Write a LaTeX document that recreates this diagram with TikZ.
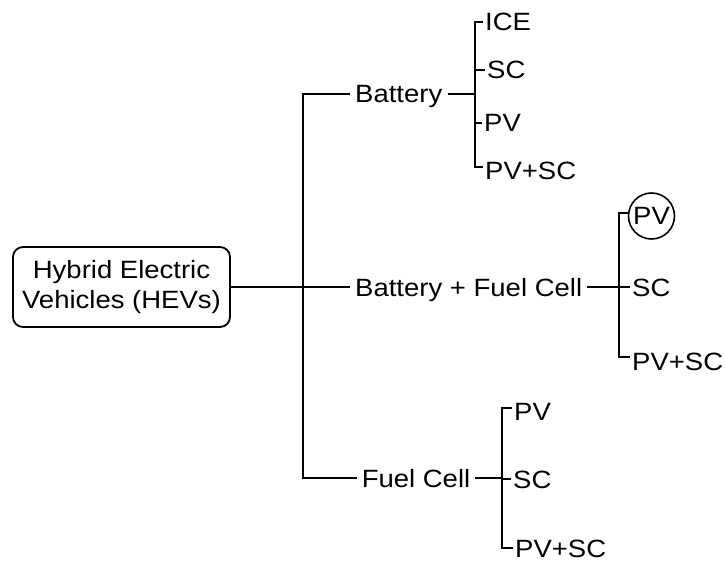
\documentclass[tikz,border=0pt]{standalone}
\usepackage{fontspec}
\setmainfont{Liberation Sans}[FakeStretch=1.1]
\usepackage{tikz}
\usetikzlibrary{positioning}

\begin{document}
\begin{tikzpicture}[
  x=1pt, y=-1pt,
  font=\fontsize{25}{30}\selectfont,
  box/.style={draw, line width=1.8pt, rounded corners=10pt, align=center, minimum width=217pt, minimum height=80pt},
  branch/.style={inner xsep=5pt, inner ysep=0pt, text height=18pt, text depth=0pt},
  leaf/.style={anchor=west, inner xsep=2pt, inner ysep=0pt, text height=18pt, text depth=0pt},
  ring/.style={draw, circle, line width=1.6pt, minimum size=46pt, inner sep=0pt},
  link/.style={line width=1.8pt}
]
\useasboundingbox (0,0) rectangle (725,564);

\node[box] (hev) at (121.5,287) {Hybrid Electric\\Vehicles (HEVs)};
\node[branch, anchor=west] (bat) at (350,94) {Battery};
\node[branch, anchor=west] (bfc) at (350,287) {Battery + Fuel Cell};
\node[branch] (fc) at (416,478) {Fuel Cell};

\coordinate (trunk) at (303,287);
\coordinate (bj) at (475,94);
\coordinate (bfcj) at (619,287);
\coordinate (fcj) at (502,478);

% battery
\node[leaf] (ice) at (483,22) {ICE};
\node[leaf] (sc1) at (485,70) {SC};
\node[leaf] (pv1) at (482,123) {PV};
\node[leaf] (pvsc1) at (483,170) {PV+SC};

% battery + fuel cell
\node[ring] (pv2) at (651.5,216) {PV};
\node[leaf] (sc2) at (630,287) {SC};
\node[leaf] (pvsc2) at (630,361) {PV+SC};

% fuel cell
\node[leaf] (pv3) at (512,411) {PV};
\node[leaf] (sc3) at (511,479) {SC};
\node[leaf] (pvsc3) at (513,548) {PV+SC};

\draw[link] (hev.east) -- (bfc.west);
\draw[link] (bat.west) -| (trunk) |- (fc.west);

\draw[link] (bat.east) -- (bj);
\draw[link] (ice.west) -| (bj) |- ([yshift=3pt]pvsc1.west);
\draw[link] (sc1.west) -- (sc1.west -| bj);
\draw[link] (pv1.west) -- (pv1.west -| bj);

\draw[link] (bfc.east) -- (bfcj);
\draw[link] ([yshift=3pt]pv2.west) -| (bfcj) |- ([yshift=4pt]pvsc2.west);
\draw[link] (sc2.west) -- (bfcj);

\draw[link] (fc.east) -- (fcj);
\draw[link] ([yshift=3pt]pv3.west) -| (fcj) |- (pvsc3.west);
\draw[link] (sc3.west) -- (sc3.west -| fcj);
\end{tikzpicture}
\end{document}
